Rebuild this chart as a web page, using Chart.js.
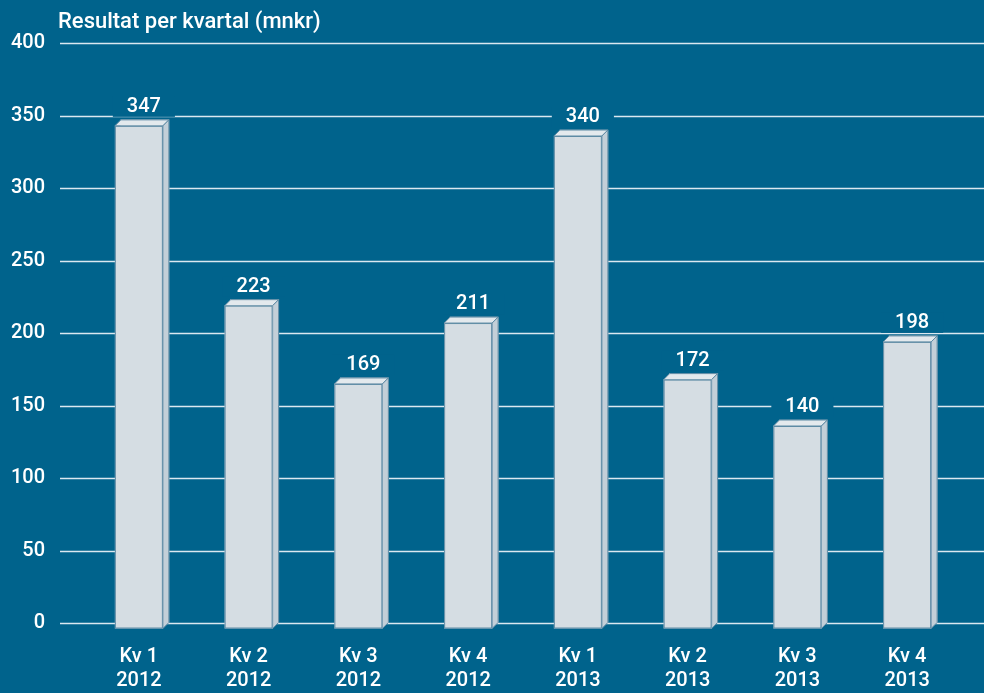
<!DOCTYPE html>
<html>
<head>
<meta charset="utf-8">
<script src="https://cdn.jsdelivr.net/npm/chart.js@4"></script>
<style>
  body { margin: 0; background: #00638c; }
  #wrap { position: relative; width: 984px; height: 693px; }
  #title { position: absolute; left: 58px; top: 8px; color: #fff; font: 500 22px Roboto, sans-serif; }
</style>
</head>
<body>
<div id="wrap">
  <canvas id="myChart"></canvas>
  <div id="title">Resultat per kvartal (mnkr)</div>
</div>
<script>
const quarters = ['Kv 1', 'Kv 2', 'Kv 3', 'Kv 4', 'Kv 1', 'Kv 2', 'Kv 3', 'Kv 4'];
const years = ['2012', '2012', '2012', '2012', '2013', '2013', '2013', '2013'];
const results = [347, 223, 169, 211, 340, 172, 140, 198];
const yMin = 0, yMax = 400, yStep = 50;

const bg = '#00638c';
const depth = 6;

// grid lines run wider than the bar area
const gridLines = {
  id: 'gridLines',
  beforeDatasetsDraw(chart) {
    const ctx = chart.ctx;
    const y = chart.scales.y;
    ctx.save();
    ctx.strokeStyle = '#dbe8f0';
    ctx.lineWidth = 1.5;
    y.ticks.forEach(t => {
      const py = Math.round(y.getPixelForValue(t.value)) + 0.5;
      ctx.beginPath();
      ctx.moveTo(60, py);
      ctx.lineTo(chart.width, py);
      ctx.stroke();
    });
    ctx.restore();
  }
};

// 3d faces + value labels
const bars3d = {
  id: 'bars3d',
  afterDatasetsDraw(chart) {
    const ctx = chart.ctx;
    const meta = chart.getDatasetMeta(0);
    ctx.save();
    ctx.lineWidth = 1;
    ctx.strokeStyle = '#5d8aa4';
    meta.data.forEach((bar, i) => {
      const l = bar.x - bar.width / 2, r = bar.x + bar.width / 2;
      const t = bar.y, b = bar.base;
      // top
      ctx.fillStyle = '#e3e9ed';
      ctx.beginPath();
      ctx.moveTo(l - depth, t + depth); ctx.lineTo(l, t); ctx.lineTo(r, t); ctx.lineTo(r - depth, t + depth);
      ctx.closePath(); ctx.fill(); ctx.stroke();
      // side
      ctx.fillStyle = '#c3cfd8';
      ctx.beginPath();
      ctx.moveTo(r - depth, t + depth); ctx.lineTo(r, t); ctx.lineTo(r, b); ctx.lineTo(r - depth, b + depth);
      ctx.closePath(); ctx.fill(); ctx.stroke();
      // front
      ctx.fillStyle = '#d5dde3';
      ctx.fillRect(l - depth, t + depth, bar.width, b - t);
      ctx.strokeRect(l - depth + 0.5, t + depth + 0.5, bar.width - 1, b - t - 1);

      // label
      const txt = String(results[i]);
      ctx.font = '500 20px Roboto, sans-serif';
      const w = ctx.measureText(txt).width;
      const lx = bar.x - 1, ly = t - 13;
      ctx.fillStyle = bg;
      ctx.fillRect(lx - w / 2 - 14, ly - 10, w + 28, 20);
      ctx.fillStyle = '#fff';
      ctx.textAlign = 'center';
      ctx.textBaseline = 'middle';
      ctx.fillText(txt, lx, ly);
    });
    ctx.restore();
  }
};

const ctx1 = document.getElementById('myChart').getContext('2d');
const myChart = new Chart(ctx1, {
  type: 'bar',
  data: {
    labels: quarters.map((q, i) => [q, years[i]]),
    datasets: [{
      data: results,
      backgroundColor: '#c3cfd8',
      borderWidth: 0,
      barThickness: 48
    }]
  },
  options: {
    responsive: true,
    maintainAspectRatio: false,
    animation: false,
    layout: { padding: { top: 43, right: 16, left: 0, bottom: 0 } },
    plugins: {
      legend: { display: false },
      tooltip: { enabled: false }
    },
    scales: {
      x: {
        grid: { display: false },
        border: { display: false },
        afterFit(s) { s.height = 70; },
        ticks: {
          color: '#fff',
          padding: 14,
          labelOffset: -depth,
          maxRotation: 0,
          font: { family: 'Roboto', size: 20, weight: 500, lineHeight: 1.2 }
        }
      },
      y: {
        min: yMin,
        max: yMax,
        // invisible tick marks only push the labels left
        grid: { color: 'transparent', drawOnChartArea: false, tickLength: 45 },
        border: { display: false },
        afterFit(s) { s.width = 90; },
        ticks: {
          stepSize: yStep,
          color: '#fff',
          padding: 0,
          font: { family: 'Roboto', size: 20, weight: 500 }
        }
      }
    }
  },
  plugins: [gridLines, bars3d]
});
</script>
</body>
</html>
